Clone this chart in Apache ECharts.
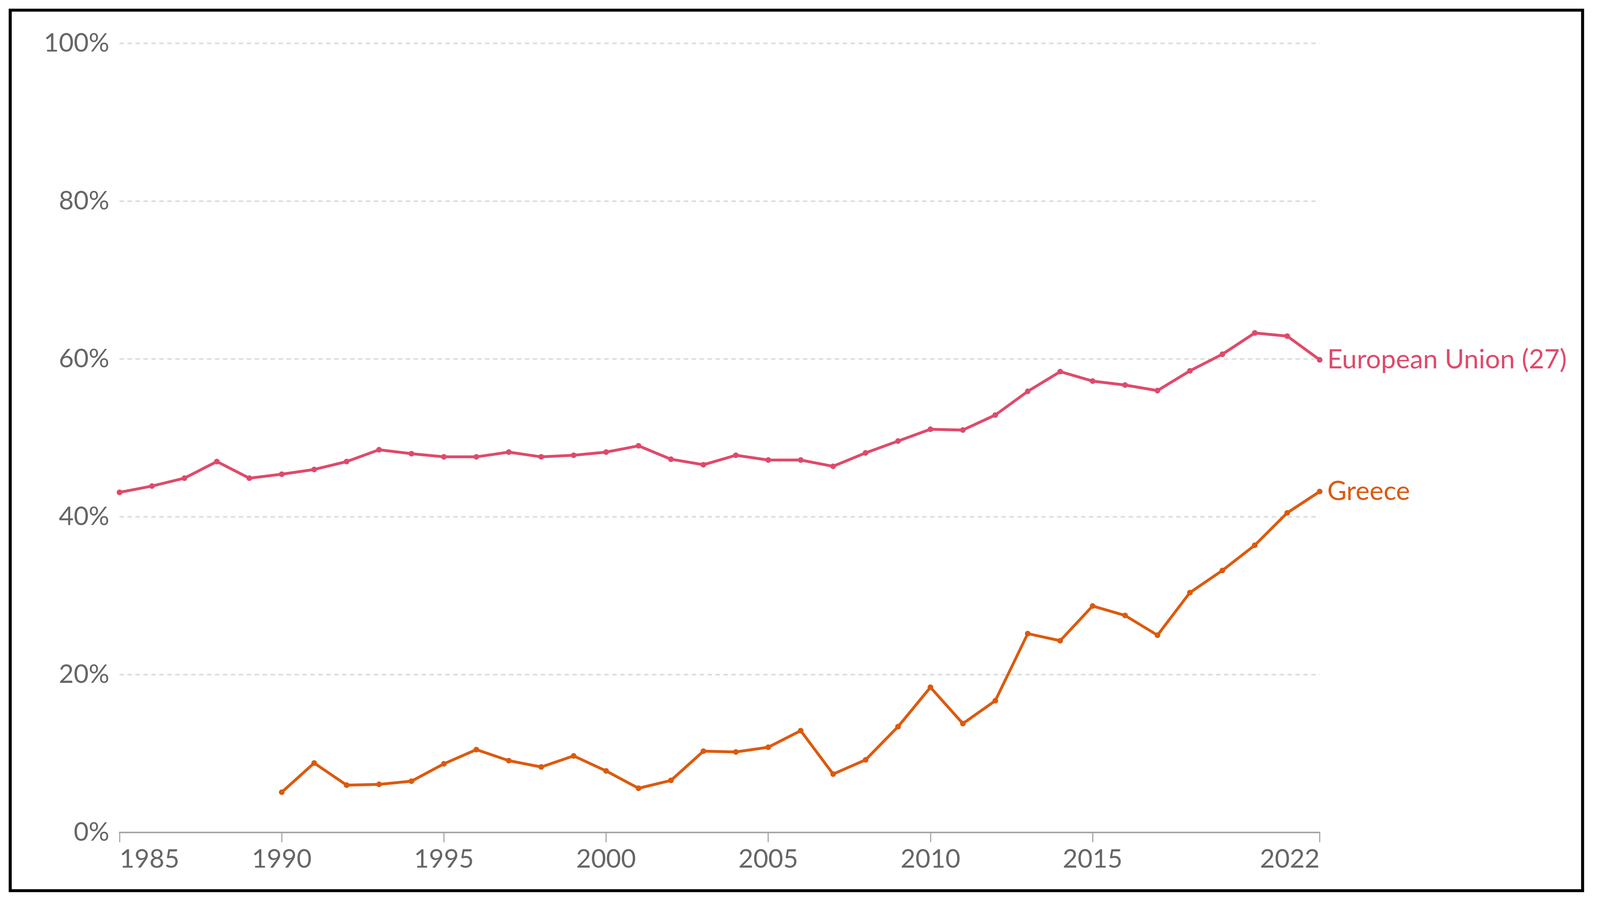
<!DOCTYPE html>
<html>
<head>
<meta charset="utf-8">
<script src="https://cdn.jsdelivr.net/npm/echarts@6/dist/echarts.min.js"></script>
<style>
html,body{margin:0;padding:0;background:#fff;overflow:hidden;width:100%;height:100%;}
#chart{width:100vw;height:100vh;}
</style>
</head>
<body>
<div id="chart"></div>
<script>
// Data
const euYears = [1985,1986,1987,1988,1989,1990,1991,1992,1993,1994,1995,1996,1997,1998,1999,2000,2001,2002,2003,2004,2005,2006,2007,2008,2009,2010,2011,2012,2013,2014,2015,2016,2017,2018,2019,2020,2021,2022];
const euValues = [43.1,43.9,44.9,47.0,44.9,45.4,46.0,47.0,48.5,48.0,47.6,47.6,48.2,47.6,47.8,48.2,49.0,47.3,46.6,47.8,47.2,47.2,46.4,48.1,49.6,51.1,51.0,52.9,55.9,58.4,57.2,56.7,56.0,58.5,60.6,63.3,62.9,59.9];
const grYears = [1990,1991,1992,1993,1994,1995,1996,1997,1998,1999,2000,2001,2002,2003,2004,2005,2006,2007,2008,2009,2010,2011,2012,2013,2014,2015,2016,2017,2018,2019,2020,2021,2022];
const grValues = [5.1,8.8,6.0,6.1,6.5,8.7,10.5,9.1,8.3,9.7,7.8,5.6,6.6,10.3,10.2,10.8,12.9,7.4,9.2,13.4,18.4,13.8,16.7,25.2,24.3,28.7,27.5,25.0,30.4,33.2,36.4,40.5,43.2];
const xTickLabels = [1985,1990,1995,2000,2005,2010,2015,2022];
const seriesNames = ['European Union (27)', 'Greece'];
const seriesColors = ['#df4a6b', '#dc5a0e'];

const el = document.getElementById('chart');
const W = el.clientWidth || window.innerWidth;
const H = el.clientHeight || window.innerHeight;
const sx = W / 4229, sy = H / 2309, s = Math.min(sx, sy);
const chart = echarts.init(el, null, {renderer: 'canvas', width: W, height: H});
const FONT = 'Lato, "Noto Sans", sans-serif';

function pairs(xs, ys){ return xs.map((x,i)=>[x, ys[i]]); }

const fsAxis = Math.round(68 * s);
const fsLabel = Math.round(70 * s);
const option = {
  backgroundColor: '#ffffff',
  animation: false,
  textStyle: {fontFamily: FONT},
  grid: {left: 316 * sx, right: 741 * sx, top: 111 * sy, bottom: 178 * sy, containLabel: false},
  xAxis: {
    type: 'value',
    min: 1985,
    max: 2022,
    axisLine: {show: true, lineStyle: {color: '#a6a6a6', width: 4 * s}},
    axisTick: {show: true, length: 25 * sy, lineStyle: {color: '#a6a6a6', width: 3 * s}, customValues: xTickLabels},
    axisLabel: {
      show: true, color: '#666666', fontSize: fsAxis, fontFamily: FONT, margin: 36 * sy,
      customValues: xTickLabels,
      alignMinLabel: 'left', alignMaxLabel: 'right',
      formatter: v => String(v)
    },
    splitLine: {show: false}
  },
  yAxis: {
    type: 'value',
    min: 0,
    max: 100,
    interval: 20,
    axisLine: {show: false},
    axisTick: {show: false},
    axisLabel: {color: '#666666', fontSize: fsAxis, fontFamily: FONT, margin: 27 * sx, formatter: '{value}%'},
    splitLine: {show: true, lineStyle: {color: '#dddddd', width: 4 * s, type: [12 * s, 9 * s]}}
  },
  series: [
    {
      name: seriesNames[0],
      type: 'line',
      data: pairs(euYears, euValues),
      symbol: 'circle',
      symbolSize: 15 * s,
      showAllSymbol: true,
      lineStyle: {color: seriesColors[0], width: 7.5 * s},
      itemStyle: {color: seriesColors[0]},
      endLabel: {show: true, formatter: '{a}', color: seriesColors[0], fontSize: fsLabel, fontFamily: FONT, distance: 20 * sx},
      z: 3
    },
    {
      name: seriesNames[1],
      type: 'line',
      data: pairs(grYears, grValues),
      symbol: 'circle',
      symbolSize: 15 * s,
      showAllSymbol: true,
      lineStyle: {color: seriesColors[1], width: 7.5 * s},
      itemStyle: {color: seriesColors[1]},
      endLabel: {show: true, formatter: '{a}', color: seriesColors[1], fontSize: fsLabel, fontFamily: FONT, distance: 20 * sx},
      z: 3
    }
  ],
  graphic: [
    {
      type: 'rect',
      silent: true,
      shape: {x: 27 * sx, y: 26 * sy, width: 4156 * sx, height: 2254 * sy},
      style: {fill: 'none', stroke: '#000000', lineWidth: 8 * s},
      z: 100
    }
  ]
};
chart.setOption(option);
</script>
</body>
</html>
